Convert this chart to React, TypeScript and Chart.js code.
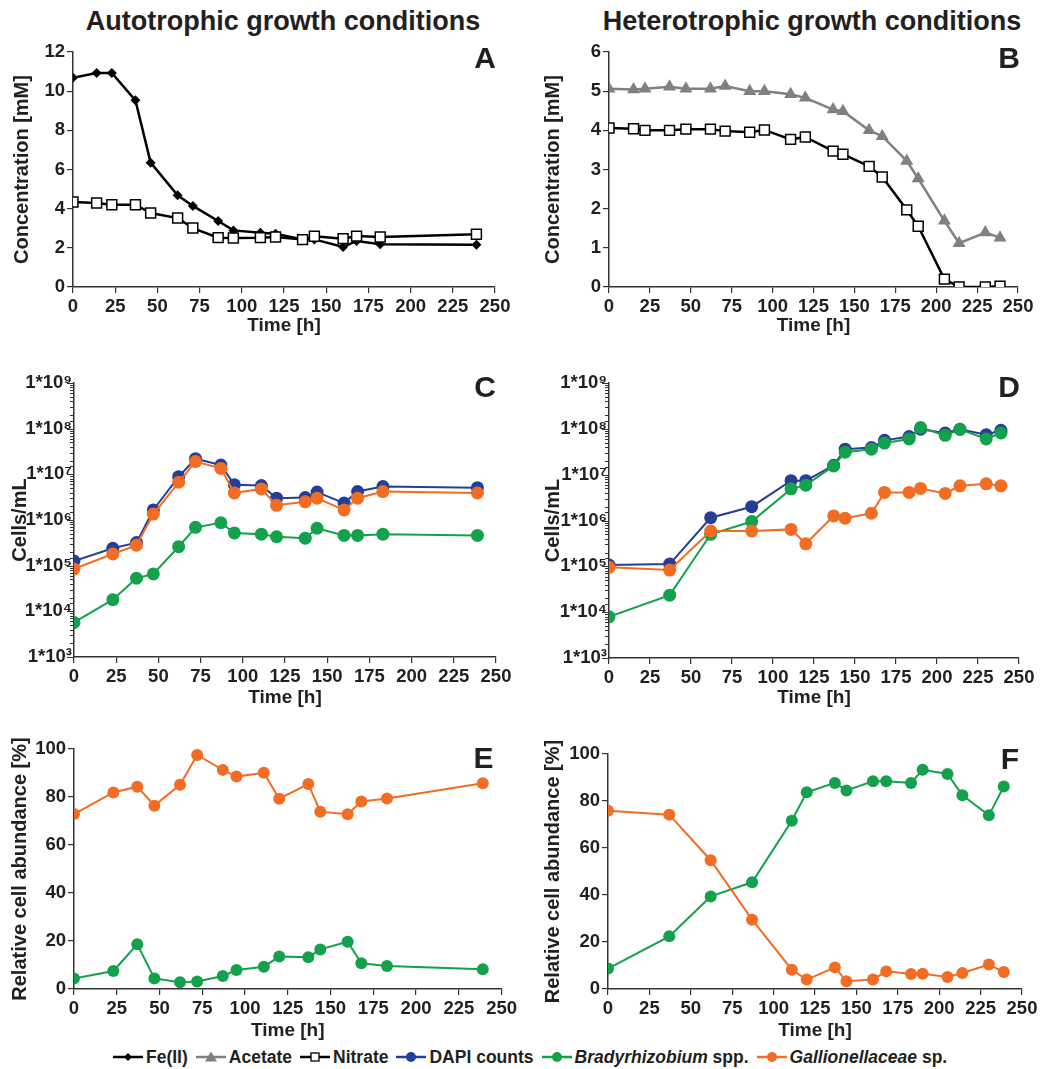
import React, { useEffect, useRef } from 'react';
import { Chart, registerables } from 'chart.js';

Chart.register(...registerables);

const FONT = 'Arial, "Liberation Sans", Helvetica, sans-serif';
const TEXT = '#231f20';
const AXIS = '#333333';
const BLUE = '#253f97';
const GREEN = '#13a14b';
const ORANGE = '#f26c23';
const GRAY = '#808080';

// ---- Panel A: autotrophic chemistry ----
const autoChemTime = [0, 14, 23, 37, 46, 62, 71, 86, 95, 111, 120, 136, 143, 160, 168, 182, 239];
const autoFe = [10.69, 10.93, 10.93, 9.53, 6.35, 4.68, 4.14, 3.37, 2.89, 2.77, 2.72, 2.43, 2.43, 2.04, 2.35, 2.18, 2.16];
const autoNitrate = [4.34, 4.29, 4.2, 4.2, 3.78, 3.52, 3.01, 2.52, 2.5, 2.52, 2.55, 2.42, 2.59, 2.47, 2.6, 2.55, 2.69];

// ---- Panel B: heterotrophic chemistry ----
const heteroChemTime = [0, 15, 22, 37, 47, 62, 71, 86, 95, 111, 120, 137, 143, 159, 167, 182, 189, 205, 214, 230, 239];
const heteroAcetate = [5.06, 5.04, 5.06, 5.11, 5.06, 5.06, 5.13, 5.0, 5.0, 4.92, 4.83, 4.53, 4.49, 4.0, 3.85, 3.22, 2.77, 1.69, 1.12, 1.39, 1.26];
const heteroNitrate = [4.06, 4.04, 4.0, 4.0, 4.03, 4.03, 3.98, 3.95, 4.01, 3.77, 3.83, 3.47, 3.39, 3.08, 2.81, 1.97, 1.55, 0.2, 0.0, 0.0, 0.02];

// ---- Panels C / E: autotrophic cells ----
const autoCellTime = [0, 23, 37, 47, 62, 72, 87, 95, 111, 120, 137, 144, 160, 168, 183, 239];
const autoDapi = [1.26e5, 2.4e5, 3.2e5, 1.66e6, 8.9e6, 2.2e7, 1.6e7, 5.9e6, 5.7e6, 3.0e6, 3.1e6, 4.1e6, 2.35e6, 4.2e6, 5.4e6, 5.1e6];
const autoGall = [8.5e4, 1.8e5, 2.8e5, 1.35e6, 6.7e6, 1.9e7, 1.35e7, 3.9e6, 4.8e6, 2.1e6, 2.5e6, 3.0e6, 1.66e6, 3.0e6, 4.2e6, 3.9e6];
const autoBrady = [5.7e3, 1.8e4, 5.3e4, 6.6e4, 2.6e5, 6.9e5, 8.7e5, 5.2e5, 4.9e5, 4.3e5, 4.0e5, 6.6e5, 4.6e5, 4.6e5, 4.9e5, 4.6e5];
const autoRelGall = [72.9, 81.9, 84.3, 76.4, 85.1, 97.5, 91.3, 88.5, 90.1, 79.3, 85.4, 73.9, 72.8, 78.1, 79.4, 85.7];
const autoRelBrady = [4.4, 7.5, 18.6, 4.4, 2.8, 3.1, 5.4, 7.9, 9.3, 13.5, 13.2, 16.5, 19.7, 10.7, 9.6, 8.2];

// ---- Panels D / F: heterotrophic cells ----
const heteroCellTime = [0, 37, 62, 87, 111, 120, 137, 144, 160, 168, 183, 190, 205, 214, 230, 239];
const heteroDapi = [1.07e5, 1.12e5, 1.15e6, 2.0e6, 7.4e6, 7.4e6, 1.6e7, 3.6e7, 3.9e7, 5.6e7, 6.8e7, 9.8e7, 8.1e7, 9.8e7, 7.4e7, 9.3e7];
const heteroBrady = [7.9e3, 2.35e4, 5.0e5, 9.5e5, 4.9e6, 5.9e6, 1.55e7, 3.1e7, 3.6e7, 4.9e7, 6.0e7, 1.07e8, 7.2e7, 9.8e7, 6.0e7, 8.1e7];
const heteroGall = [9.5e4, 8.3e4, 5.9e5, 5.9e5, 6.4e5, 3.1e5, 1.26e6, 1.12e6, 1.44e6, 4.1e6, 4.1e6, 5.0e6, 3.9e6, 5.7e6, 6.3e6, 5.7e6];
const heteroRelBrady = [8.7, 22.4, 39.4, 45.4, 71.6, 83.7, 87.7, 84.5, 88.4, 88.4, 87.7, 93.3, 91.5, 82.4, 73.9, 86.2];
const heteroRelGall = [75.9, 74.2, 54.8, 29.5, 8.2, 4.0, 9.2, 3.3, 4.0, 7.5, 6.4, 6.5, 5.1, 6.8, 10.4, 7.2];

// ---- axis ranges ----
const timeRange = [0, 250, 25];
const concARange = [0, 12, 2];
const concBRange = [0, 6, 1];
const cellRange = [1e3, 1e9];
const relRange = [0, 100, 20];

const SUP: Record<string, string> = { '0': '⁰', '1': '¹', '2': '²', '3': '³', '4': '⁴', '5': '⁵', '6': '⁶', '7': '⁷', '8': '⁸', '9': '⁹' };

const pts = (xs: number[], ys: number[]) => xs.map((x, i) => ({ x, y: ys[i] }));

const lineDs = (label: string, xs: number[], ys: number[], color: string, extra: any = {}) => ({
  label,
  data: pts(xs, ys),
  borderColor: color,
  backgroundColor: color,
  pointBackgroundColor: color,
  pointBorderColor: color,
  borderWidth: 2,
  pointRadius: 6.5,
  pointBorderWidth: 0,
  tension: 0,
  ...extra,
});

const isMajorLog = (v: number) => {
  const l = Math.log10(v);
  return Math.abs(l - Math.round(l)) < 1e-6;
};

const letterPlugin = {
  id: 'panelLetter',
  afterDraw(chart: any, _args: any, opts: any) {
    if (!opts || !opts.text) return;
    const ctx = chart.ctx;
    ctx.save();
    ctx.font = `bold 30px ${FONT}`;
    ctx.fillStyle = TEXT;
    ctx.textAlign = 'right';
    ctx.textBaseline = 'alphabetic';
    ctx.fillText(opts.text, chart.chartArea.right + opts.dx, chart.chartArea.top + opts.dy);
    ctx.restore();
  },
};

const logTickPlugin = {
  id: 'logTicks',
  afterDraw(chart: any) {
    const s = chart.scales.y;
    if (!s || s.type !== 'logarithmic') return;
    const ctx = chart.ctx;
    ctx.save();
    ctx.strokeStyle = AXIS;
    ctx.lineWidth = 1.2;
    ctx.beginPath();
    for (const t of s.ticks) {
      const y = Math.round(s.getPixelForValue(t.value)) + 0.5;
      const len = isMajorLog(t.value) ? 7 : 4;
      ctx.moveTo(s.right - len, y);
      ctx.lineTo(s.right, y);
    }
    ctx.stroke();
    ctx.restore();
  },
};

type Spec = {
  left: number; top: number; width: number; height: number;
  padTop: number; padRight: number; yWidth: number; xHeight: number;
  yTitle: string; yTitlePad: number; xTitlePad: number;
  yLog?: boolean; yRange: number[];
  letter: string; ldx: number; ldy: number;
  datasets: any[];
};

function Panel({ spec }: { spec: Spec }) {
  const ref = useRef<HTMLCanvasElement | null>(null);
  useEffect(() => {
    if (!ref.current) return;
    const tickFont = { family: FONT, size: 18.5, weight: 'bold' as const };
    const yScale: any = spec.yLog
      ? {
          type: 'logarithmic',
          min: spec.yRange[0],
          max: spec.yRange[1],
          ticks: {
            autoSkip: false,
            color: TEXT,
            font: tickFont,
            padding: 0,
            callback: (v: any) => {
              const n = Number(v);
              if (!isMajorLog(n)) return '';
              const e = String(Math.round(Math.log10(n)));
              return '1*10' + e.split('').map((c) => SUP[c]).join('');
            },
          },
          grid: { display: false, drawTicks: true, tickLength: 2 },
        }
      : {
          type: 'linear',
          min: spec.yRange[0],
          max: spec.yRange[1],
          ticks: { stepSize: spec.yRange[2], autoSkip: false, color: TEXT, font: tickFont, padding: 2 },
          grid: { display: true, drawOnChartArea: false, drawTicks: true, tickLength: 6, color: AXIS, lineWidth: 1.2 },
        };
    yScale.position = 'left';
    yScale.border = { display: true, color: AXIS, width: 1.5 };
    yScale.title = {
      display: true,
      text: spec.yTitle,
      color: TEXT,
      font: { family: FONT, size: 20, weight: 'bold' },
      padding: { top: spec.yTitlePad, bottom: 0 },
    };
    yScale.afterFit = (s: any) => { s.width = spec.yWidth; };

    const chart = new Chart(ref.current, {
      type: 'line',
      data: { datasets: spec.datasets },
      options: {
        responsive: false,
        maintainAspectRatio: false,
        animation: false,
        events: [],
        layout: { padding: { left: 0, top: spec.padTop, right: spec.padRight, bottom: 0 } },
        plugins: {
          legend: { display: false },
          tooltip: { enabled: false },
          title: { display: false },
          panelLetter: { text: spec.letter, dx: spec.ldx, dy: spec.ldy },
        } as any,
        scales: {
          x: {
            type: 'linear',
            position: 'bottom',
            min: timeRange[0],
            max: timeRange[1],
            ticks: { stepSize: timeRange[2], autoSkip: false, maxRotation: 0, minRotation: 0, color: TEXT, font: tickFont, padding: 3 },
            grid: { display: true, drawOnChartArea: false, drawTicks: true, tickLength: 6, color: AXIS, lineWidth: 1.2 },
            border: { display: true, color: AXIS, width: 1.5 },
            title: {
              display: true,
              text: 'Time [h]',
              color: TEXT,
              font: { family: FONT, size: 19, weight: 'bold' },
              padding: { top: 0, bottom: spec.xTitlePad },
            },
            afterFit: (s: any) => { s.height = spec.xHeight; },
          } as any,
          y: yScale,
        },
      },
      plugins: [letterPlugin, logTickPlugin],
    });
    return () => chart.destroy();
  }, [spec]);
  return (
    <canvas
      ref={ref}
      width={spec.width}
      height={spec.height}
      style={{ position: 'absolute', left: spec.left, top: spec.top, width: spec.width, height: spec.height }}
    />
  );
}

const fe = lineDs('Fe(II)', autoChemTime, autoFe, '#000000', { borderWidth: 2.5, pointStyle: 'rectRot', pointRadius: 5 });
const nitrateStyle = {
  pointStyle: 'rect', pointRadius: 7, pointBackgroundColor: '#ffffff', pointBorderColor: '#000000', pointBorderWidth: 1.5, borderWidth: 2.5,
};
const specs: Spec[] = [
  {
    left: 0, top: 30, width: 520, height: 315, padTop: 22, padRight: 25, yWidth: 73, xHeight: 58,
    yTitle: 'Concentration [mM]', yTitlePad: 10, xTitlePad: 8, yRange: concARange,
    letter: 'A', ldx: 1, ldy: 16,
    datasets: [lineDs('Nitrate', autoChemTime, autoNitrate, '#000000', nitrateStyle), fe],
  },
  {
    left: 520, top: 30, width: 526, height: 315, padTop: 22, padRight: 28, yWidth: 89, xHeight: 58,
    yTitle: 'Concentration [mM]', yTitlePad: 21, xTitlePad: 8, yRange: concBRange,
    letter: 'B', ldx: 2, ldy: 16,
    datasets: [
      lineDs('Nitrate', heteroChemTime, heteroNitrate, '#000000', nitrateStyle),
      lineDs('Acetate', heteroChemTime, heteroAcetate, GRAY, { borderWidth: 2.5, pointStyle: 'triangle', pointRadius: 7.5 }),
    ],
  },
  {
    left: 0, top: 345, width: 520, height: 370, padTop: 38, padRight: 24, yWidth: 74, xHeight: 58,
    yTitle: 'Cells/mL', yTitlePad: 8, xTitlePad: 6, yLog: true, yRange: cellRange,
    letter: 'C', ldx: 0, ldy: 14,
    datasets: [
      lineDs('Gallionellaceae sp.', autoCellTime, autoGall, ORANGE),
      lineDs('Bradyrhizobium spp.', autoCellTime, autoBrady, GREEN),
      lineDs('DAPI counts', autoCellTime, autoDapi, BLUE),
    ],
  },
  {
    left: 520, top: 345, width: 526, height: 370, padTop: 38, padRight: 27, yWidth: 89, xHeight: 57,
    yTitle: 'Cells/mL', yTitlePad: 21, xTitlePad: 6, yLog: true, yRange: cellRange,
    letter: 'D', ldx: 1, ldy: 14,
    datasets: [
      lineDs('Gallionellaceae sp.', heteroCellTime, heteroGall, ORANGE),
      lineDs('Bradyrhizobium spp.', heteroCellTime, heteroBrady, GREEN),
      lineDs('DAPI counts', heteroCellTime, heteroDapi, BLUE),
    ],
  },
  {
    left: 0, top: 715, width: 520, height: 330, padTop: 34, padRight: 18, yWidth: 74, xHeight: 56,
    yTitle: 'Relative cell abundance [%]', yTitlePad: 8, xTitlePad: 3, yRange: relRange,
    letter: 'E', ldx: -8, ldy: 19,
    datasets: [
      lineDs('Gallionellaceae sp.', autoCellTime, autoRelGall, ORANGE, { pointRadius: 6 }),
      lineDs('Bradyrhizobium spp.', autoCellTime, autoRelBrady, GREEN, { pointRadius: 6 }),
    ],
  },
  {
    left: 520, top: 715, width: 526, height: 330, padTop: 39, padRight: 24, yWidth: 88, xHeight: 56,
    yTitle: 'Relative cell abundance [%]', yTitlePad: 21, xTitlePad: 3, yRange: relRange,
    letter: 'F', ldx: -3, ldy: 15,
    datasets: [
      lineDs('Gallionellaceae sp.', heteroCellTime, heteroRelGall, ORANGE, { pointRadius: 6 }),
      lineDs('Bradyrhizobium spp.', heteroCellTime, heteroRelBrady, GREEN, { pointRadius: 6 }),
    ],
  },
];

function Marker({ kind, color }: { kind: string; color: string }) {
  return (
    <svg width={30} height={14} style={{ display: 'block', marginRight: 3 }}>
      <line x1={0} y1={7} x2={30} y2={7} stroke={color} strokeWidth={2.5} />
      {kind === 'diamond' && <polygon points="15,3 19,7 15,11 11,7" fill={color} />}
      {kind === 'triangle' && <polygon points="15,1.5 21,11.5 9,11.5" fill={color} />}
      {kind === 'square' && <rect x={11} y={3} width={8} height={8} fill="#fff" stroke={color} strokeWidth={1.3} />}
      {kind === 'circle' && <circle cx={15} cy={7} r={5} fill={color} />}
    </svg>
  );
}

const legendItems: { kind: string; color: string; italic?: string; text: string }[] = [
  { kind: 'diamond', color: '#000000', text: 'Fe(II)' },
  { kind: 'triangle', color: GRAY, text: 'Acetate' },
  { kind: 'square', color: '#000000', text: 'Nitrate' },
  { kind: 'circle', color: BLUE, text: 'DAPI counts' },
  { kind: 'circle', color: GREEN, italic: 'Bradyrhizobium', text: ' spp.' },
  { kind: 'circle', color: ORANGE, italic: 'Gallionellaceae', text: ' sp.' },
];

export default function App() {
  const titleStyle: React.CSSProperties = {
    position: 'absolute', top: 8, width: 520, textAlign: 'center', fontFamily: FONT, fontWeight: 'bold',
    fontSize: 27, lineHeight: '27px', color: TEXT, whiteSpace: 'nowrap',
  };
  return (
    <div style={{ position: 'absolute', left: 0, top: 0, width: 1046, height: 1069, background: '#fff', overflow: 'hidden' }}>
      <div style={{ ...titleStyle, left: 23 }}>Autotrophic growth conditions</div>
      <div style={{ ...titleStyle, left: 552 }}>Heterotrophic growth conditions</div>
      {specs.map((s, i) => (
        <Panel key={i} spec={s} />
      ))}
      <div
        style={{
          position: 'absolute', left: 113, top: 1047, display: 'flex', alignItems: 'center', fontFamily: FONT,
          fontWeight: 'bold', fontSize: 17.5, lineHeight: '20px', color: TEXT, whiteSpace: 'nowrap',
        }}
      >
        {legendItems.map((it, i) => (
          <div key={i} style={{ display: 'flex', alignItems: 'center', marginRight: 8 }}>
            <Marker kind={it.kind} color={it.color} />
            <span>
              {it.italic ? <i>{it.italic}</i> : null}
              {it.text}
            </span>
          </div>
        ))}
      </div>
    </div>
  );
}
